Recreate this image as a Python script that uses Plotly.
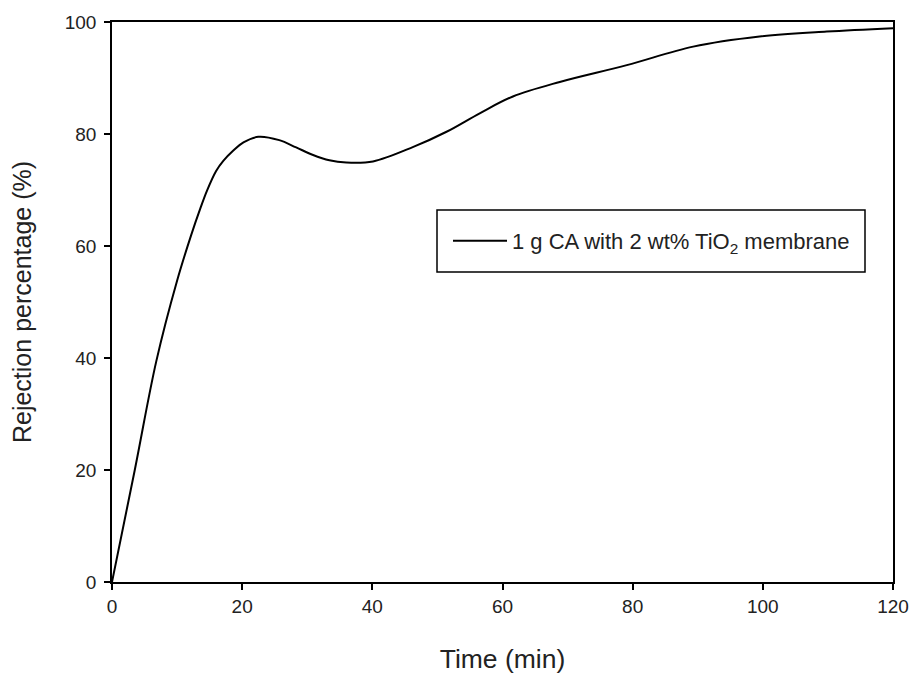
import plotly.graph_objects as go

time_min = [0, 3.5, 6.8, 10.0, 12.15, 13.6, 14.6, 16.0, 17.1, 18.6, 20.2, 22.5, 25.7, 28.3, 30.8, 33.4, 36.0, 40.1, 46.3, 51.4, 56.5, 61.6, 68.8, 79.1, 89.3, 99.5, 109.8, 120]
rejection = [0, 20, 39.4, 53.8, 61.9, 66.8, 69.9, 73.4, 75.2, 77.0, 78.5, 79.5, 78.9, 77.6, 76.3, 75.3, 74.9, 75.1, 77.7, 80.4, 83.7, 86.7, 89.3, 92.3, 95.6, 97.4, 98.3, 98.9]
series_name = "1 g CA with 2 wt% TiO<sub>2</sub> membrane"
x_ticks = [0, 20, 40, 60, 80, 100, 120]
y_ticks = [0, 20, 40, 60, 80, 100]

fig = go.Figure()
fig.add_trace(go.Scatter(
    x=time_min, y=rejection, mode="lines", name=series_name,
    line=dict(color="black", width=2, shape="spline", smoothing=1.0),
))

# page body has an 8px offset; figure coordinates = screen - 8
OFF = 8
W, H = 909, 666
L, R, T, B = 112 - OFF, 24, 22 - OFF, 92
pw = W - L - R
ph = H - T - B

def px_to_paper_x(px):
    return (px - OFF - L) / pw

def px_to_paper_y(py):
    return (H - B - (py - OFF)) / ph

fig.add_shape(type="rect", xref="paper", yref="paper",
              x0=px_to_paper_x(437), x1=px_to_paper_x(865),
              y0=px_to_paper_y(272), y1=px_to_paper_y(210),
              line=dict(color="black", width=1.5), fillcolor="rgba(0,0,0,0)")

FONT = "Liberation Sans, Arial, sans-serif"
axis_common = dict(
    showgrid=False, zeroline=False, showline=True, linecolor="black", linewidth=1.5,
    mirror=True, ticks="outside", ticklen=6, tickwidth=1.5, tickcolor="black",
    tickfont=dict(family=FONT, size=19, color="#222"), automargin=False,
)

fig.update_layout(
    width=W, height=H,
    margin=dict(l=L, r=R, t=T, b=B),
    paper_bgcolor="white", plot_bgcolor="white",
    font=dict(family=FONT, color="#222"),
    xaxis=dict(range=[0, 120], tickvals=x_ticks,
               title=dict(text="Time (min)", font=dict(size=26.5), standoff=37), **axis_common),
    yaxis=dict(range=[0, 100], tickvals=y_ticks, ticklabelstandoff=4,
               title=dict(text="Rejection percentage (%)", font=dict(size=25), standoff=30), **axis_common),
    showlegend=True,
    legend=dict(x=px_to_paper_x(448), y=px_to_paper_y(241), xanchor="left", yanchor="middle",
                bgcolor="rgba(0,0,0,0)", borderwidth=0, itemwidth=54,
                font=dict(size=22, color="#222")),
)

fig.write_html("out.html")
